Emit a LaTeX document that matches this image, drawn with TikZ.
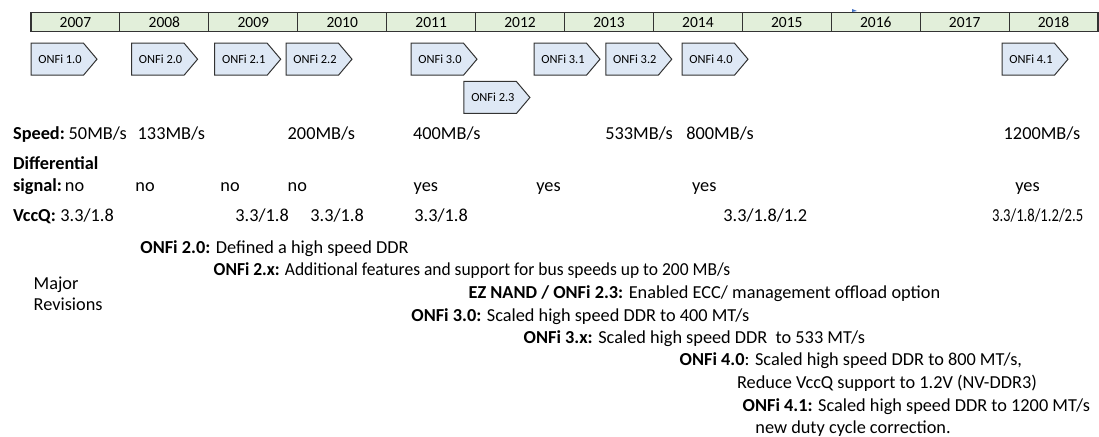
\documentclass[tikz,border=0pt]{standalone}
\usepackage{fontspec}
\setmainfont{Carlito}
\definecolor{barfill}{HTML}{E2EFDA}
\definecolor{chevfill}{HTML}{DEE8F5}
\definecolor{edgecol}{HTML}{333333}
\definecolor{markblue}{HTML}{4472C4}
\begin{document}
\begin{tikzpicture}[x=0.5pt,y=-0.5pt,
  txt/.style={anchor=base west,inner sep=0pt,font=\fontsize{9.15pt}{11pt}\selectfont},
  yeartxt/.style={anchor=center,inner sep=0pt,font=\fontsize{7.75pt}{9pt}\selectfont},
  chevtxt/.style={anchor=center,inner sep=0pt,font=\fontsize{6.2pt}{7pt}\selectfont},
  chevshape/.style={draw=edgecol,fill=chevfill,line width=0.5pt},
  barcell/.style={draw=edgecol,fill=barfill,line width=0.55pt}]
\useasboundingbox (0,0) rectangle (1099,437);
% year bar
\foreach \i/\y in {0/2007,1/2008,2/2009,3/2010,4/2011,5/2012,6/2013,7/2014,8/2015,9/2016,10/2017,11/2018}{
  \draw[barcell] ({31+88.92*\i},12.3) rectangle ({31+88.92*(\i+1)},31.6);
  \node[yeartxt] (y\y) at ({31+88.92*(\i+0.5)},22.2) {\y};
}
\fill[markblue] (852,9) -- (857,11) -- (852,12) -- cycle;
% chevrons
\newcommand{\chev}[4]{%
  \draw[chevshape] (#2,#3) -- ({#2+52.5},#3) -- ({#2+66},{#3+16}) -- ({#2+52.5},{#3+32}) -- (#2,{#3+32}) -- cycle;
  \node[chevtxt] (#1) at ({#2+29},{#3+16}) {#4};}
\chev{c10}{31}{43.2}{ONFi 1.0}
\chev{c20}{131.6}{43.2}{ONFi 2.0}
\chev{c21}{214.7}{43.2}{ONFi 2.1}
\chev{c22}{286}{43.2}{ONFi 2.2}
\chev{c30}{411}{43.2}{ONFi 3.0}
\chev{c31}{534}{43.2}{ONFi 3.1}
\chev{c32}{605.8}{43.2}{ONFi 3.2}
\chev{c40}{682}{43.2}{ONFi 4.0}
\chev{c41}{1002}{43.2}{ONFi 4.1}
\chev{c23}{463.9}{81.5}{ONFi 2.3}
% speed row
\node[txt] (sp) at (12.7,139.3) {\textbf{Speed:}};
\node[txt] (s1) at (68.3,139.3) {50MB/s};
\node[txt] (s2) at (137.3,139.3) {133MB/s};
\node[txt] (s3) at (287.3,139.3) {200MB/s};
\node[txt] (s4) at (412.7,139.3) {400MB/s};
\node[txt] (s5) at (605,139.3) {533MB/s};
\node[txt] (s6) at (686,139.3) {800MB/s};
\node[txt] (s7) at (1003.3,139.3) {1200MB/s};
% differential signal
\node[txt] (df) at (12.7,169.5) {\textbf{Differential}};
\node[txt] (sg) at (12.7,191.7) {\textbf{signal:}};
\node[txt] (d1) at (64.5,191.7) {no};
\node[txt] (d2) at (135,191.7) {no};
\node[txt] (d3) at (220,191.7) {no};
\node[txt] (d4) at (287.3,191.7) {no};
\node[txt] (d5) at (413.3,191.7) {yes};
\node[txt] (d6) at (536,191.7) {yes};
\node[txt] (d7) at (691.7,191.7) {yes};
\node[txt] (d8) at (1015,191.7) {yes};
% VccQ
\node[txt] (vq) at (12.7,221.7) {\textbf{VccQ:}};
\node[txt] (v1) at (60,221.7) {3.3/1.8};
\node[txt] (v2) at (235,221.7) {3.3/1.8};
\node[txt] (v3) at (310,221.7) {3.3/1.8};
\node[txt] (v4) at (414,221.7) {3.3/1.8};
\node[txt] (v5) at (723,221.7) {3.3/1.8/1.2};
\node[txt] (v6) at (991.7,221.7) {\scalebox{0.8}[1]{3.3/1.8/1.2/2.5}};
% major revisions
\node[txt] (mj) at (33.3,289.3) {Major};
\node[txt] (rv) at (33.3,310.7) {Revisions};
\node[txt] (r1) at (140,254) {\textbf{ONFi 2.0:} Defined a high speed DDR};
\node[txt] (r2) at (213.3,275.5) {\scalebox{0.955}[1]{\textbf{ONFi 2.x:} Additional features and support for bus speeds up to 200 MB/s}};
\node[txt] (r3) at (468.3,298.3) {\textbf{EZ NAND / ONFi 2.3:} Enabled ECC/ management offload option};
\node[txt] (r4) at (411,321.7) {\textbf{ONFi 3.0:} Scaled high speed DDR to 400 MT/s};
\node[txt] (r5) at (523.3,343.3) {\textbf{ONFi 3.x:} Scaled high speed DDR\ \ to 533 MT/s};
\node[txt] (r6) at (679.3,365.5) {\textbf{ONFi 4.0}: Scaled high speed DDR to 800 MT/s,};
\node[txt] (r7) at (736.7,388.3) {Reduce VccQ support to 1.2V (NV-DDR3)};
\node[txt] (r8) at (742.3,411.7) {\textbf{ONFi 4.1:} Scaled high speed DDR to 1200 MT/s};
\node[txt] (r9) at (755,433.3) {new duty cycle correction.};
\end{tikzpicture}
\end{document}
